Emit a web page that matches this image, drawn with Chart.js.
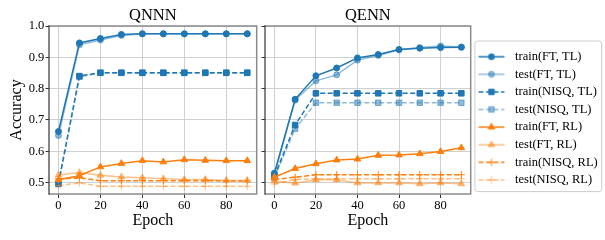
<!DOCTYPE html>
<html>
<head>
<meta charset="utf-8">
<script src="https://cdn.jsdelivr.net/npm/chart.js@4.4.0/dist/chart.umd.min.js"></script>
<style>
html, body { margin: 0; padding: 0; background: #fff; }
#wrap { position: relative; width: 605px; height: 240px; }
#left { position: absolute; left: 0; top: 0; }
#right { position: absolute; left: 257px; top: 0; }
</style>
</head>
<body>
<div id="wrap">
  <canvas id="left" width="262" height="240"></canvas>
  <canvas id="right" width="348" height="240"></canvas>
</div>
<script>
// x values shared by every series
var epochs = [0, 10, 20, 30, 40, 50, 60, 70, 80, 90];
var seriesNames = ['train(FT, TL)', 'test(FT, TL)', 'train(NISQ, TL)', 'test(NISQ, TL)',
                   'train(FT, RL)', 'test(FT, RL)', 'train(NISQ, RL)', 'test(NISQ, RL)'];
var yTicks = [0.5, 0.6, 0.7, 0.8, 0.9, 1.0];
var xTicks = [0, 20, 40, 60, 80];

// QNNN panel
var qnnnTrainFtTl   = [0.663, 0.946, 0.960, 0.973, 0.975, 0.975, 0.975, 0.975, 0.975, 0.975];
var qnnnTestFtTl    = [0.650, 0.940, 0.955, 0.970, 0.975, 0.975, 0.975, 0.975, 0.975, 0.975];
var qnnnTrainNisqTl = [0.497, 0.840, 0.851, 0.851, 0.851, 0.851, 0.851, 0.851, 0.851, 0.851];
var qnnnTestNisqTl  = [0.495, 0.838, 0.850, 0.850, 0.850, 0.850, 0.850, 0.850, 0.850, 0.850];
var qnnnTrainFtRl   = [0.509, 0.522, 0.550, 0.561, 0.570, 0.566, 0.573, 0.571, 0.570, 0.570];
var qnnnTestFtRl    = [0.524, 0.532, 0.523, 0.518, 0.515, 0.512, 0.510, 0.510, 0.507, 0.507];
var qnnnTrainNisqRl = [0.512, 0.515, 0.506, 0.506, 0.506, 0.506, 0.506, 0.506, 0.505, 0.505];
var qnnnTestNisqRl  = [0.490, 0.499, 0.488, 0.488, 0.488, 0.488, 0.488, 0.488, 0.488, 0.488];

// QENN panel
var qennTrainFtTl   = [0.530, 0.766, 0.841, 0.866, 0.898, 0.909, 0.925, 0.929, 0.931, 0.932];
var qennTestFtTl    = [0.525, 0.763, 0.825, 0.844, 0.891, 0.906, 0.924, 0.931, 0.936, 0.933];
var qennTrainNisqTl = [0.520, 0.684, 0.785, 0.785, 0.785, 0.785, 0.785, 0.785, 0.785, 0.785];
var qennTestNisqTl  = [0.515, 0.672, 0.755, 0.755, 0.755, 0.755, 0.755, 0.755, 0.755, 0.755];
var qennTrainFtRl   = [0.517, 0.545, 0.560, 0.572, 0.575, 0.587, 0.588, 0.592, 0.599, 0.611];
var qennTestFtRl    = [0.505, 0.498, 0.509, 0.509, 0.499, 0.499, 0.499, 0.496, 0.499, 0.496];
var qennTrainNisqRl = [0.510, 0.517, 0.525, 0.525, 0.525, 0.525, 0.525, 0.525, 0.525, 0.525];
var qennTestNisqRl  = [0.495, 0.510, 0.512, 0.512, 0.512, 0.512, 0.512, 0.512, 0.512, 0.512];

var BLUE = '31,119,180', ORANGE = '255,127,14';
var styles = [
  {rgb: BLUE,   a: 1,   dash: [],       shape: 'circle',   r: 3},
  {rgb: BLUE,   a: 0.5, dash: [],       shape: 'circle',   r: 3},
  {rgb: BLUE,   a: 1,   dash: [5, 2.5], shape: 'rect',     r: 3.9},
  {rgb: BLUE,   a: 0.5, dash: [5, 2.5], shape: 'rect',     r: 3.9},
  {rgb: ORANGE, a: 1,   dash: [],       shape: 'triangle', r: 3.8},
  {rgb: ORANGE, a: 0.5, dash: [],       shape: 'triangle', r: 3.8},
  {rgb: ORANGE, a: 1,   dash: [5, 2.5], shape: 'cross',    r: 3.6},
  {rgb: ORANGE, a: 0.5, dash: [5, 2.5], shape: 'cross',    r: 3.6}
];

Chart.defaults.font.family = "'Liberation Serif', 'Times New Roman', serif";
Chart.defaults.color = '#000';

function col(s) { return 'rgba(' + s.rgb + ',' + s.a + ')'; }

function buildDatasets(series) {
  return series.map(function (vals, i) {
    var s = styles[i];
    return {
      label: seriesNames[i],
      data: vals.map(function (v, k) { return {x: epochs[k], y: v}; }),
      borderColor: col(s),
      backgroundColor: col(s),
      pointBackgroundColor: col(s),
      pointBorderColor: col(s),
      borderWidth: 1.5,
      borderDash: s.dash,
      pointStyle: s.shape,
      pointRadius: s.r,
      pointBorderWidth: 1,
      tension: 0,
      order: -i
    };
  });
}

// little line+marker pictures for the legend
var handles = styles.map(function (s) {
  var c = document.createElement('canvas');
  c.width = 40; c.height = 12;
  var g = c.getContext('2d');
  g.strokeStyle = col(s);
  g.fillStyle = col(s);
  g.lineWidth = 1.5;
  g.setLineDash(s.dash);
  g.beginPath(); g.moveTo(6.2, 6); g.lineTo(32.2, 6); g.stroke();
  g.setLineDash([]);
  g.lineWidth = 1;
  Chart.helpers.drawPoint(g, {pointStyle: s.shape, radius: s.r, borderWidth: 1, rotation: 0}, 19.2, 6);
  return c;
});

var framePlugin = {
  id: 'frame',
  afterDatasetsDraw: function (chart) {
    var a = chart.chartArea, ctx = chart.ctx;
    ctx.save();
    ctx.strokeStyle = '#8c8c8c';
    ctx.lineWidth = 1.5;
    ctx.beginPath();
    ctx.moveTo(a.left, a.top); ctx.lineTo(a.right, a.top);
    ctx.lineTo(a.right, a.bottom); ctx.lineTo(a.left, a.bottom);
    ctx.stroke();
    ctx.strokeStyle = '#333';
    ctx.lineWidth = 1.2;
    ctx.beginPath(); ctx.moveTo(a.left, a.top - 0.7); ctx.lineTo(a.left, a.bottom + 0.7); ctx.stroke();
    ctx.restore();
  }
};

var legendFramePlugin = {
  id: 'legendFrame',
  beforeDraw: function (chart) {
    var lg = chart.legend;
    if (!lg || !lg.options.display || !lg.legendHitBoxes || !lg.legendHitBoxes.length) return;
    var hb = lg.legendHitBoxes;
    var left = hb[0].left - 0.9;
    var right = 0;
    hb.forEach(function (b) { right = Math.max(right, b.left + b.width); });
    right += 4;
    var top = hb[0].top + 6.25 - 15.7;
    var bottom = hb[hb.length - 1].top + 6.25 + 11.7;
    var ctx = chart.ctx;
    ctx.save();
    ctx.fillStyle = 'rgba(255,255,255,0.8)';
    ctx.strokeStyle = '#cccccc';
    ctx.lineWidth = 1;
    ctx.beginPath();
    ctx.roundRect(left, top, right - left, bottom - top, 3);
    ctx.fill();
    ctx.stroke();
    ctx.restore();
  }
};

function xScale() {
  return {
    type: 'linear', min: -4.5, max: 94.5,
    afterBuildTicks: function (s) { s.ticks = xTicks.map(function (v) { return {value: v}; }); },
    ticks: {padding: 0, font: {size: 12.5}, maxRotation: 0, autoSkip: false,
            callback: function (v) { return String(v); }},
    grid: {color: '#d0d0d0', lineWidth: 1, tickLength: 4, tickColor: '#333', tickWidth: 1},
    border: {display: false},
    title: {display: true, text: 'Epoch', font: {size: 16}, padding: {top: 0, bottom: 9.6}},
    afterFit: function (s) { s.height = 46; }
  };
}

function yScale(showLabels) {
  return {
    type: 'linear', min: 0.4635, max: 1.0,
    afterBuildTicks: function (s) { s.ticks = yTicks.map(function (v) { return {value: v}; }); },
    ticks: {padding: 1.2, font: {size: 12.5},
            callback: function (v) { return showLabels ? v.toFixed(1) : ''; }},
    grid: {color: '#d0d0d0', lineWidth: 1, tickLength: 3.5, tickColor: '#333', tickWidth: 1},
    border: {display: false},
    title: {display: showLabels, text: 'Accuracy', font: {size: 16}, padding: {top: 6.9, bottom: 0}},
    afterFit: function (s) { s.width = showLabels ? 49 : 8; }
  };
}

function makeChart(id, title, series, withLegend, padRight) {
  return new Chart(document.getElementById(id), {
    type: 'line',
    data: {datasets: buildDatasets(series)},
    options: {
      responsive: false,
      animation: false,
      devicePixelRatio: 1,
      layout: {padding: {left: 0, right: padRight, top: 0, bottom: 0}},
      scales: {x: xScale(), y: yScale(!withLegend)},
      plugins: {
        title: {display: true, text: title, fullSize: false, font: {size: 16.5, weight: 'normal'},
                padding: {top: 6, bottom: 0.2}, color: '#000'},
        tooltip: {enabled: false},
        legend: withLegend ? {
          display: true, position: 'right', align: 'start', maxWidth: 130,
          title: {display: true, text: '', font: {size: 1}, padding: {top: 44.15, bottom: 0}},
          labels: {
            usePointStyle: true, pointStyleWidth: 33, padding: 5.1,
            font: {size: 12.5}, color: '#000',
            generateLabels: function (chart) {
              return chart.data.datasets.map(function (ds, i) {
                return {text: ds.label, pointStyle: handles[i], datasetIndex: i, hidden: false,
                        lineWidth: 0, fillStyle: 'rgba(0,0,0,0)', strokeStyle: 'rgba(0,0,0,0)',
                        fontColor: '#000'};
              });
            }
          }
        } : {display: false}
      }
    },
    plugins: [framePlugin, legendFramePlugin]
  });
}

makeChart('left', 'QNNN',
  [qnnnTrainFtTl, qnnnTestFtTl, qnnnTrainNisqTl, qnnnTestNisqTl,
   qnnnTrainFtRl, qnnnTestFtRl, qnnnTrainNisqRl, qnnnTestNisqRl], false, 5.3);
makeChart('right', 'QENN',
  [qennTrainFtTl, qennTestFtTl, qennTrainNisqTl, qennTestNisqTl,
   qennTrainFtRl, qennTestFtRl, qennTrainNisqRl, qennTestNisqRl], true, 4.3);
</script>
</body>
</html>
